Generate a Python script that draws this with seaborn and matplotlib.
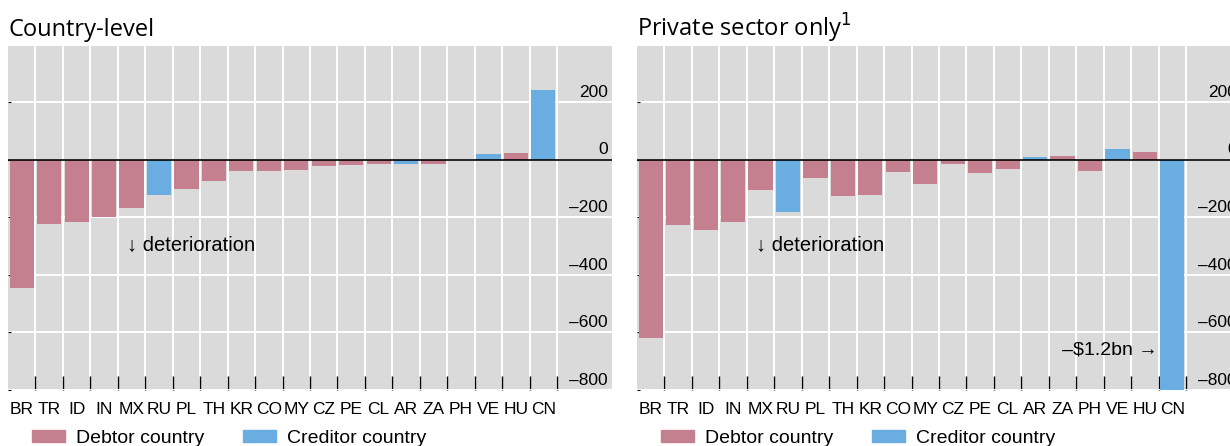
import matplotlib
matplotlib.use('Agg')
import pandas as pd
import seaborn as sns
import matplotlib.pyplot as plt
from matplotlib.patches import Patch

# data
countries = ['BR', 'TR', 'ID', 'IN', 'MX', 'RU', 'PL', 'TH', 'KR', 'CO',
             'MY', 'CZ', 'PE', 'CL', 'AR', 'ZA', 'PH', 'VE', 'HU', 'CN']
country_level = [-445, -223, -215, -198, -168, -121, -102, -73, -38, -38,
                 -35, -21, -17, -14, -14, -14, -2, 20, 23, 242]
private_sector = [-618, -227, -243, -215, -105, -180, -64, -125, -121, -42,
                  -83, -14, -45, -31, 9, 13, -38, 37, 27, -1200]
creditors = ['RU', 'AR', 'VE', 'CN']
kinds = ['Debtor country', 'Creditor country']
y_ticks = [200, 0, -200, -400, -600, -800]
y_labels = ['200', '0', '\u2013200', '\u2013400', '\u2013600', '\u2013800']

pink = '#c4808f'
blue = '#6aade0'
bg = '#dadada'
palette = {'Debtor country': pink, 'Creditor country': blue}

plt.rcParams['font.family'] = ['Liberation Sans', 'DejaVu Sans']


def draw_panel(ax, values, title):
    df = pd.DataFrame({'country': countries, 'value': values})
    df['kind'] = [kinds[1] if c in creditors else kinds[0] for c in countries]
    sns.barplot(data=df, x='country', y='value', hue='kind', order=countries,
                hue_order=kinds, palette=palette, dodge=False, width=0.88,
                saturation=1, legend=False, ax=ax)
    ax.set_facecolor(bg)
    ax.set_xlim(-0.5, 21.5)
    ax.set_ylim(-800, 395)
    ax.set_yticks(y_ticks)
    ax.set_yticklabels([])
    ax.set_xticks([i + 0.5 for i in range(20)], minor=True)
    ax.set_axisbelow(True)
    ax.yaxis.grid(True, color='white', lw=1.4)
    ax.xaxis.grid(True, which='minor', color='white', lw=1.4)
    ax.xaxis.grid(False, which='major')
    ax.tick_params(axis='x', which='major', length=0, labelsize=12.5, pad=9)
    ax.tick_params(axis='x', which='minor', direction='in', length=10,
                   width=1, color='black')
    ax.tick_params(axis='y', which='major', direction='in', length=2,
                   width=0.8, color='black')
    ax.axhline(0, color='black', lw=1.2, zorder=5)
    for v, lab in zip(y_ticks, y_labels):
        ax.text(21.35, v + 8, lab, ha='right', va='bottom', fontsize=12.5)
    for s in ax.spines.values():
        s.set_visible(False)
    ax.set_xlabel('')
    ax.set_ylabel('')
    ax.set_title(title, loc='left', fontfamily=['Open Sans', 'DejaVu Sans'],
                 fontsize=17, pad=7)
    ax.text(3.85, -296, '\u2193 deterioration', ha='left', va='center',
            fontsize=14.5)
    handles = [Patch(color=palette[k], label=k) for k in kinds]
    ax.legend(handles=handles, loc='upper left', bbox_to_anchor=(0.04, -0.115),
              ncol=2, frameon=False, fontsize=14, handlelength=1.7,
              handleheight=0.6, handletextpad=0.55, columnspacing=2.0,
              borderaxespad=0, borderpad=0)


fig = plt.figure(figsize=(12.3, 4.46), dpi=100)
ax1 = fig.add_axes([8 / 1230, 56 / 446, 604 / 1230, 344 / 446])
ax2 = fig.add_axes([637 / 1230, 56 / 446, 604 / 1230, 344 / 446])

draw_panel(ax1, country_level, 'Country-level')
draw_panel(ax2, private_sector, 'Private sector only$^{1}$')
ax2.text(18.45, -660, '\u2013\\$1.2bn \u2192',
         ha='right', va='center', fontsize=14)

fig.savefig('out.png', dpi=100)
